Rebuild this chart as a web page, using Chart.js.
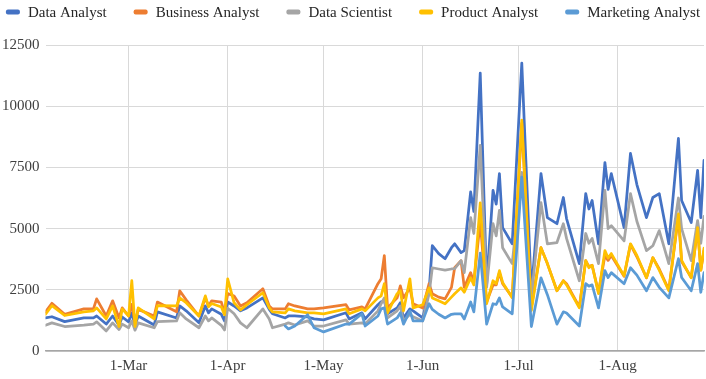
<!DOCTYPE html>
<html><head><meta charset="utf-8">
<script src="https://cdn.jsdelivr.net/npm/chart.js@4.4.1/dist/chart.umd.min.js"></script>
<style>html,body{margin:0;padding:0;background:#fff}#wrap{width:706px;height:379px;position:relative}</style>
</head><body><div id="wrap"><canvas id="c"></canvas></div>
<script>
const dates = ['2023-02-03','2023-02-05','2023-02-09','2023-02-15','2023-02-18','2023-02-19','2023-02-22','2023-02-24','2023-02-26','2023-02-27',
'2023-03-01','2023-03-02','2023-03-03','2023-03-04','2023-03-09','2023-03-10','2023-03-16','2023-03-17','2023-03-19','2023-03-23',
'2023-03-25','2023-03-26','2023-03-27','2023-03-30','2023-03-31','2023-04-01','2023-04-03','2023-04-05','2023-04-07','2023-04-12',
'2023-04-14','2023-04-15','2023-04-19','2023-04-20','2023-04-22','2023-04-26','2023-04-28','2023-05-01','2023-05-08','2023-05-09',
'2023-05-13','2023-05-14','2023-05-18','2023-05-19','2023-05-20','2023-05-21','2023-05-24','2023-05-25','2023-05-26','2023-05-28',
'2023-05-29','2023-06-01','2023-06-03','2023-06-04','2023-06-06','2023-06-08','2023-06-10','2023-06-11','2023-06-13','2023-06-14',
'2023-06-16','2023-06-17','2023-06-19','2023-06-21','2023-06-23','2023-06-24','2023-06-25','2023-06-26','2023-06-29','2023-07-02',
'2023-07-05','2023-07-08','2023-07-10','2023-07-13','2023-07-15','2023-07-16','2023-07-20','2023-07-22','2023-07-23','2023-07-24',
'2023-07-26','2023-07-28','2023-07-29','2023-07-30','2023-08-03','2023-08-05','2023-08-07','2023-08-10','2023-08-12','2023-08-14',
'2023-08-17','2023-08-20','2023-08-21','2023-08-24','2023-08-26','2023-08-27','2023-08-28'];

const dataAnalyst = [1350,1400,1200,1350,1350,1430,1100,1430,1050,1390,
1190,1560,1050,1430,1060,1600,1350,1840,1640,1150,
1840,1560,1720,1500,1230,2000,1840,1640,1760,2170,
1700,1520,1350,1430,1430,1390,1310,1270,1560,1310,
1560,1310,1890,2010,2050,1520,1760,1970,1350,1720,
1640,1350,2460,4300,3980,3770,4220,4380,4020,4100,
6500,5700,11350,2700,6560,6000,7250,5040,4380,11760,
2400,7250,5450,5200,6270,5410,3570,6430,5800,6150,
4380,7700,6600,7250,5040,8070,6800,5450,6270,6430,
4380,8690,6150,5250,7380,5450,7790];

const businessAnalyst = [1600,1950,1500,1720,1720,2130,1430,2050,1350,1760,
1430,1900,1150,1700,1430,2000,1600,2460,2090,1430,
2170,1840,2050,2000,1550,2350,2250,1840,1970,2540,
1840,1720,1720,1930,1840,1720,1720,1760,1890,1680,
1800,1720,2750,2950,3900,1760,2170,2660,2170,2580,
1930,1760,2750,2340,2200,2130,2600,3400,3690,2600,
3200,2800,5300,2000,2700,2700,3200,2750,2200,9300,
1800,4220,3570,2460,2870,2750,1800,3690,3450,3500,
2400,3900,3700,3900,3050,4350,3850,2990,3810,3350,
2500,5500,3650,3000,5000,3300,4100];

const dataScientist = [1050,1150,1000,1060,1100,1190,820,1150,880,1100,
950,1230,850,1150,950,1200,1230,1560,1310,950,
1430,1230,1350,1050,860,1750,1520,1150,950,1720,
1310,950,1100,1150,1060,1230,1020,1020,1270,1100,
1150,1100,1640,1930,2170,1350,1640,1840,1230,1500,
1400,1230,2340,3400,3350,3300,3350,3360,3690,3200,
5450,4800,8400,2600,5200,4700,5740,4220,3570,7300,
2200,6060,4380,4430,5200,4600,2870,4800,4400,4600,
3570,6560,5000,5120,4500,6430,5300,4100,4300,4920,
3570,6250,5000,3690,5330,4400,5500];

const productAnalyst = [1500,1850,1450,1600,1640,1760,1310,1840,1000,1720,
1430,2870,1000,1760,1310,1850,1840,2170,1970,1430,
2250,1800,1940,1800,1480,2950,1970,1680,1890,2380,
1760,1600,1560,1720,1640,1560,1560,1520,1720,1520,
1720,1640,2170,2250,2750,1560,2340,2460,1640,2950,
1760,1890,2580,2170,2050,1930,2200,2340,2580,2400,
2990,2700,6050,1930,2870,2750,3280,2800,2170,9430,
1650,4220,3570,2460,2870,2700,1760,3690,3400,3500,
2340,4100,3800,3980,3070,4380,3900,2990,3810,3300,
2460,5600,3700,2990,5040,3300,4200];

const marketingAnalyst = [null,null,null,null,null,null,null,null,null,null,
null,null,null,null,null,null,null,null,null,null,
null,null,null,null,null,null,null,null,null,null,
null,null,1020,900,1020,1480,950,780,1100,1100,
1520,1020,1430,1720,1760,1100,1350,1560,1100,1640,
1230,1230,1930,1700,1500,1350,1500,1520,1520,1310,
2000,1600,4000,1100,1930,1900,2170,1800,1520,7100,
1000,2990,2300,1100,1600,1550,1020,2750,2650,2700,
1760,3280,3000,3200,2750,3400,3100,2460,3000,2600,
2170,3770,3000,2460,3570,2400,3200];

const seriesNames = ['Data Analyst','Business Analyst','Data Scientist','Product Analyst','Marketing Analyst'];
const seriesColors = ['#4472C4','#ED7D31','#A5A5A5','#FFC000','#5B9BD5'];
const monthTickDates = ['2023-03-01','2023-04-01','2023-05-01','2023-06-01','2023-07-01','2023-08-01'];
const monthTickLabels = ['1-Mar','1-Apr','1-May','1-Jun','1-Jul','1-Aug'];
const axisStart = '2023-02-03';
const axisEnd = '2023-08-28';

function dayIndex(s){const p=s.split('-').map(Number);return (Date.UTC(p[0],p[1]-1,p[2])-Date.UTC(p[0],0,1))/86400000;}
const xs = dates.map(dayIndex);
const pts = vals => vals.map((v,i)=>({x:xs[i],y:v}));
const allSeries = [dataAnalyst,businessAnalyst,dataScientist,productAnalyst,marketingAnalyst];
const tickDays = monthTickDates.map(dayIndex);

const FONT = '"Liberation Serif","Times New Roman",serif';
Chart.defaults.font.family = FONT;
Chart.defaults.font.size = 15;
Chart.defaults.color = '#404040';

// Legend drawn across the top, in dataset order
const topLegend = {id:'topLegend', afterDraw(chart){
  const ctx = chart.ctx; ctx.save();
  ctx.font = '15px ' + FONT; ctx.textBaseline = 'middle'; ctx.textAlign = 'left';
  const box = 14, gapBT = 8, gap = 27;
  const items = chart.data.datasets.map(d=>({t:d.label, c:d.borderColor, w:ctx.measureText(d.label).width}));
  const total = items.reduce((s,it)=>s+box+gapBT+it.w,0) + gap*(items.length-1);
  let x = (chart.width-total)/2; const y = 12;
  items.forEach(it=>{
    ctx.fillStyle = it.c; ctx.beginPath();
    if (ctx.roundRect) ctx.roundRect(x, y-2.5, box, 5, 2); else ctx.rect(x, y-2.5, box, 5);
    ctx.fill();
    ctx.fillStyle = '#262626'; ctx.fillText(it.t, x+box+gapBT, y+1);
    x += box+gapBT+it.w+gap;
  });
  ctx.restore();
}};

new Chart(document.getElementById('c'), {
  type:'line',
  data:{datasets: allSeries.map((vals,i)=>({
    label:seriesNames[i], data:pts(vals), borderColor:seriesColors[i], backgroundColor:seriesColors[i],
    borderWidth:2.75, pointRadius:0, tension:0, order:4-i, borderJoinStyle:'round', borderCapStyle:'round'
  }))},
  options:{
    responsive:true, maintainAspectRatio:false, animation:false, devicePixelRatio:1,
    layout:{padding:{top:45,left:-4,right:2,bottom:-2}},
    plugins:{ tooltip:{enabled:false}, legend:{display:false} },
    scales:{
      x:{type:'linear', min:dayIndex(axisStart), max:dayIndex(axisEnd),
        afterBuildTicks:s=>{s.ticks=tickDays.map(v=>({value:v}));},
        ticks:{autoSkip:false, maxRotation:0, padding:6, callback:v=>{const k=tickDays.indexOf(v);return k>=0?monthTickLabels[k]:'';}},
        grid:{color:'#d9d9d9', drawTicks:false},
        border:{display:true, color:'#a6a6a6', width:1.5}},
      y:{min:0, max:12500, ticks:{stepSize:2500, padding:6, callback:v=>String(v)},
        grid:{color:'#d9d9d9', drawTicks:false}, border:{display:false}}
    }
  },
  plugins:[topLegend]
});
</script></body></html>
